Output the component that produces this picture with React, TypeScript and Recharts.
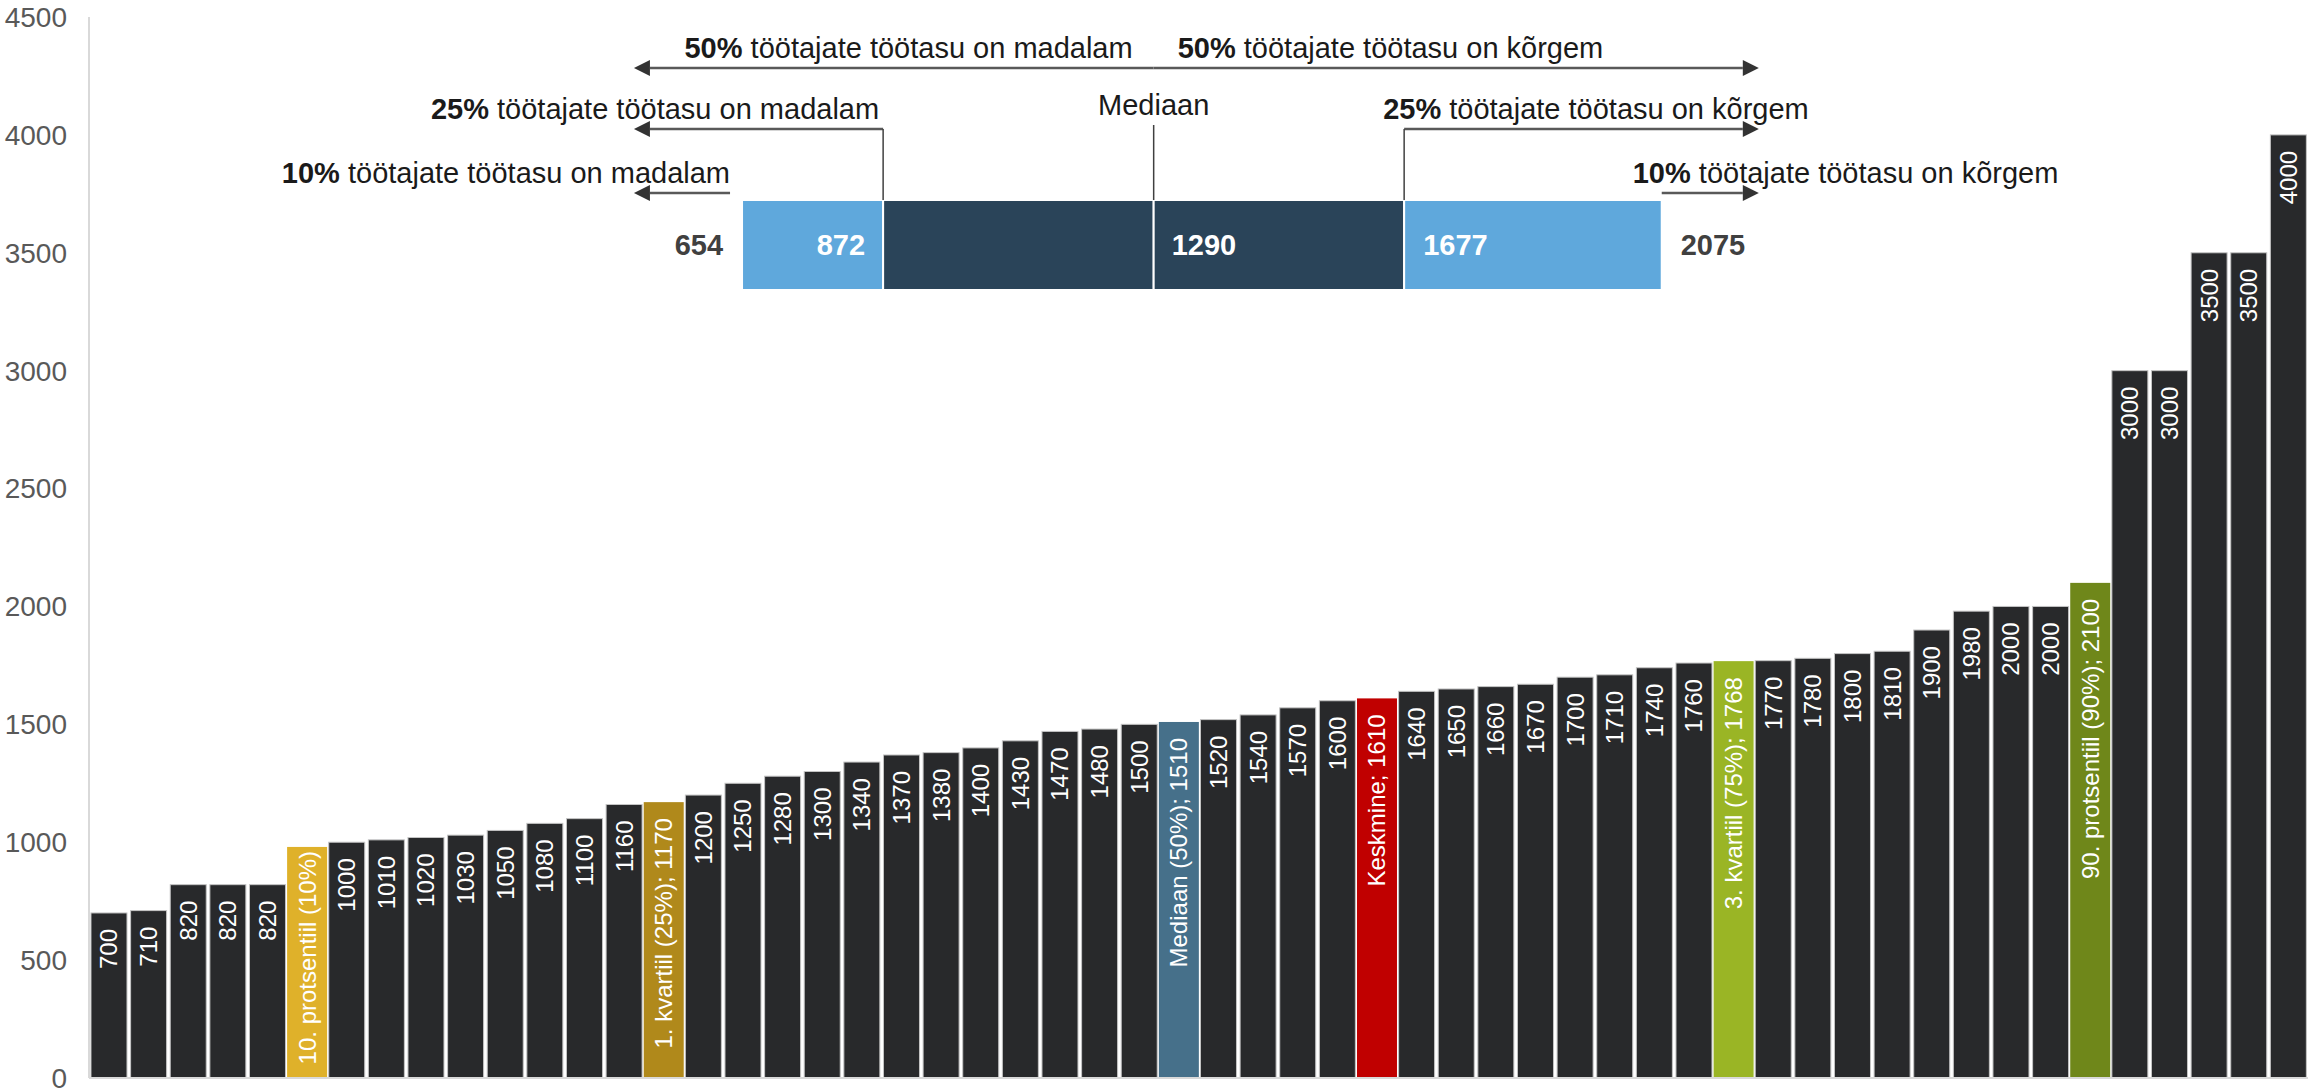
import React from 'react';
import {
  BarChart,
  Bar,
  XAxis,
  YAxis,
  LabelList,
  ReferenceLine,
} from 'recharts';

// sorted monthly wages of the 56 employees
const wages = [
  700, 710, 820, 820, 820, 980, 1000, 1010, 1020, 1030, 1050, 1080, 1100, 1160,
  1170, 1200, 1250, 1280, 1300, 1340, 1370, 1380, 1400, 1430, 1470, 1480, 1500,
  1510, 1520, 1540, 1570, 1600, 1610, 1640, 1650, 1660, 1670, 1700, 1710, 1740,
  1760, 1768, 1770, 1780, 1800, 1810, 1900, 1980, 2000, 2000, 2100, 3000, 3000,
  3500, 3500, 4000,
];

// special bars: position in the sorted list, label, colour
const markedIdx = [5, 14, 27, 32, 41, 50];
const markedLabels = [
  '10. protsentiil (10%)',
  '1. kvartiil (25%); 1170',
  'Mediaan (50%); 1510',
  'Keskmine; 1610',
  '3. kvartiil (75%); 1768',
  '90. protsentiil (90%); 2100',
];
const markedColors = ['#dfb12a', '#b0891b', '#46708a', '#c00000', '#9ab525', '#6f871a'];

const yTicks = [0, 500, 1000, 1500, 2000, 2500, 3000, 3500, 4000, 4500];

// top box: 10%, 25%, 50%, 75%, 90%
const quantiles = [654, 872, 1290, 1677, 2075];
const arrowEnds = [487, 2225];

const FONT = '"Liberation Sans", Arial, sans-serif';
const DARK = '#28292b';
const BOX_HALF = 45;

const barData = wages.map((w, i) => ({ id: i + 1, wage: w }));

const boxData = [
  {
    name: 'palk',
    base: quantiles[0],
    s1: quantiles[1] - quantiles[0],
    s2: quantiles[2] - quantiles[1],
    s3: quantiles[3] - quantiles[2],
    s4: quantiles[4] - quantiles[3],
  },
];

const arrowRows = [
  { from: quantiles[2], to: arrowEnds[0], dy: -177, pct: '50%', text: ' töötajate töötasu on madalam', textDx: -21, anchor: 'end', drop: false, gap: 0 },
  { from: quantiles[2], to: arrowEnds[1], dy: -177, pct: '50%', text: ' töötajate töötasu on kõrgem', textDx: 24, anchor: 'start', drop: false, gap: 0 },
  { from: quantiles[1], to: arrowEnds[0], dy: -116, pct: '25%', text: ' töötajate töötasu on madalam', textDx: -4, anchor: 'end', drop: true, gap: 0 },
  { from: quantiles[3], to: arrowEnds[1], dy: -116, pct: '25%', text: ' töötajate töötasu on kõrgem', textDx: -21, anchor: 'start', drop: true, gap: 0 },
  { from: quantiles[0], to: arrowEnds[0], dy: -52, pct: '10%', text: ' töötajate töötasu on madalam', textDx: -12, anchor: 'end', drop: false, gap: 12 },
  { from: quantiles[4], to: arrowEnds[1], dy: -52, pct: '10%', text: ' töötajate töötasu on kõrgem', textDx: -29, anchor: 'start', drop: false, gap: 0 },
];

function ArrowShape(props: any) {
  const { x1, y1, x2, row } = props;
  const y = y1 + row.dy;
  const dir = x2 < x1 ? -1 : 1;
  const sx = x1 + dir * row.gap;
  const head = 16;
  return (
    <g>
      <line x1={sx} y1={y} x2={x2 - dir * head} y2={y} stroke="#595959" strokeWidth={2.5} />
      <polygon
        points={`${x2},${y} ${x2 - dir * head},${y - 8} ${x2 - dir * head},${y + 8}`}
        fill="#333"
      />
      {row.drop && (
        <line x1={x1} y1={y} x2={x1} y2={y1 - BOX_HALF} stroke="#404040" strokeWidth={1.5} />
      )}
      <text
        x={x1 + row.textDx}
        y={y - 10}
        textAnchor={row.anchor}
        fontSize={29}
        fontFamily={FONT}
        fill="#1a1a1a"
      >
        <tspan fontWeight="bold">{row.pct}</tspan>
        {row.text}
      </text>
    </g>
  );
}

function MedianShape(props: any) {
  const { x1, y1 } = props;
  return (
    <g>
      <text x={x1} y={y1 - 130} textAnchor="middle" fontSize={29} fontFamily={FONT} fill="#1a1a1a">
        Mediaan
      </text>
      <line x1={x1} y1={y1 - 120} x2={x1} y2={y1 - BOX_HALF} stroke="#404040" strokeWidth={1.5} />
    </g>
  );
}

const boxText = (x: number, y: number, txt: number, anchor: string, fill: string) => (
  <text
    x={x}
    y={y}
    textAnchor={anchor}
    dominantBaseline="central"
    fontSize={29}
    fontWeight="bold"
    fontFamily={FONT}
    fill={fill}
  >
    {txt}
  </text>
);

function renderWageBar(p: any) {
  const k = markedIdx.indexOf(p.index);
  const pad = k >= 0 ? 2 : 0;
  return (
    <rect
      x={p.x - pad}
      y={p.y}
      width={p.width + pad * 2}
      height={p.height}
      fill={k >= 0 ? markedColors[k] : DARK}
      stroke={k >= 0 ? 'none' : '#c4c4c4'}
      strokeWidth={1}
    />
  );
}

function renderWageLabel(p: any) {
  const k = markedIdx.indexOf(p.index);
  const txt = k >= 0 ? markedLabels[k] : String(wages[p.index]);
  // long label that barely fits its bar sits closer to the top
  const tight = k === 0;
  const cx = p.x + p.width / 2;
  const ty = p.y + (tight ? 4 : 16);
  return (
    <text
      x={cx}
      y={ty}
      transform={`rotate(-90 ${cx} ${ty})`}
      textAnchor="end"
      dominantBaseline="central"
      fill="#fff"
      fontSize={24}
      fontFamily={FONT}
    >
      {txt}
    </text>
  );
}

export default function App() {
  return (
    <div style={{ position: 'absolute', left: 0, top: 0, width: 2323, height: 1089, background: '#fff' }}>
      <div style={{ position: 'absolute', left: 0, top: 0 }}>
        <BarChart
          width={2323}
          height={1089}
          data={barData}
          margin={{ top: 17, right: 15, bottom: 10, left: 0 }}
          barCategoryGap="5%"
        >
          <XAxis dataKey="id" tick={false} tickLine={false} height={1} axisLine={{ stroke: '#d9d9d9', strokeWidth: 2 }} />
          <YAxis
            width={89}
            domain={[0, 4500]}
            ticks={yTicks}
            tickLine={false}
            tickMargin={16}
            axisLine={{ stroke: '#d9d9d9', strokeWidth: 2 }}
            tick={{ fill: '#595959', fontSize: 28, fontFamily: FONT }}
            interval={0}
          />
          <Bar dataKey="wage" shape={renderWageBar} isAnimationActive={false}>
            <LabelList dataKey="wage" content={renderWageLabel} />
          </Bar>
        </BarChart>
      </div>
      <div style={{ position: 'absolute', left: 0, top: 0 }}>
        <BarChart
          width={2323}
          height={300}
          data={boxData}
          layout="vertical"
          margin={{ top: 200, right: 548, bottom: 10, left: 610 }}
          barCategoryGap={0}
        >
          <XAxis type="number" domain={[450, 2250]} hide allowDataOverflow />
          <YAxis type="category" dataKey="name" hide />
          <Bar dataKey="base" stackId="a" fill="transparent" isAnimationActive={false} />
          <Bar
            dataKey="s1"
            stackId="a"
            fill="#5fa8dc"
            stroke="#fff"
            strokeWidth={2}
            isAnimationActive={false}
            label={(p: any) => (
              <g>
                {boxText(p.x - 19, p.y + p.height / 2, quantiles[0], 'end', '#404040')}
                {boxText(p.x + p.width - 18, p.y + p.height / 2, quantiles[1], 'end', '#fff')}
              </g>
            )}
          />
          <Bar dataKey="s2" stackId="a" fill="#2a4459" stroke="#fff" strokeWidth={2} isAnimationActive={false} />
          <Bar
            dataKey="s3"
            stackId="a"
            fill="#2a4459"
            stroke="#fff"
            strokeWidth={2}
            isAnimationActive={false}
            label={(p: any) => boxText(p.x + 18, p.y + p.height / 2, quantiles[2], 'start', '#fff')}
          />
          <Bar
            dataKey="s4"
            stackId="a"
            fill="#5fa8dc"
            stroke="#fff"
            strokeWidth={2}
            isAnimationActive={false}
            label={(p: any) => (
              <g>
                {boxText(p.x + 19, p.y + p.height / 2, quantiles[3], 'start', '#fff')}
                {boxText(p.x + p.width + 19, p.y + p.height / 2, quantiles[4], 'start', '#404040')}
              </g>
            )}
          />
          {arrowRows.map((row, i) => (
            <ReferenceLine
              key={i}
              segment={[
                { x: row.from, y: 'palk' },
                { x: row.to, y: 'palk' },
              ]}
              ifOverflow="visible"
              shape={(p: any) => <ArrowShape {...p} row={row} />}
            />
          ))}
          <ReferenceLine
            segment={[
              { x: quantiles[2], y: 'palk' },
              { x: quantiles[2], y: 'palk' },
            ]}
            ifOverflow="visible"
            shape={(p: any) => <MedianShape {...p} />}
          />
        </BarChart>
      </div>
    </div>
  );
}
